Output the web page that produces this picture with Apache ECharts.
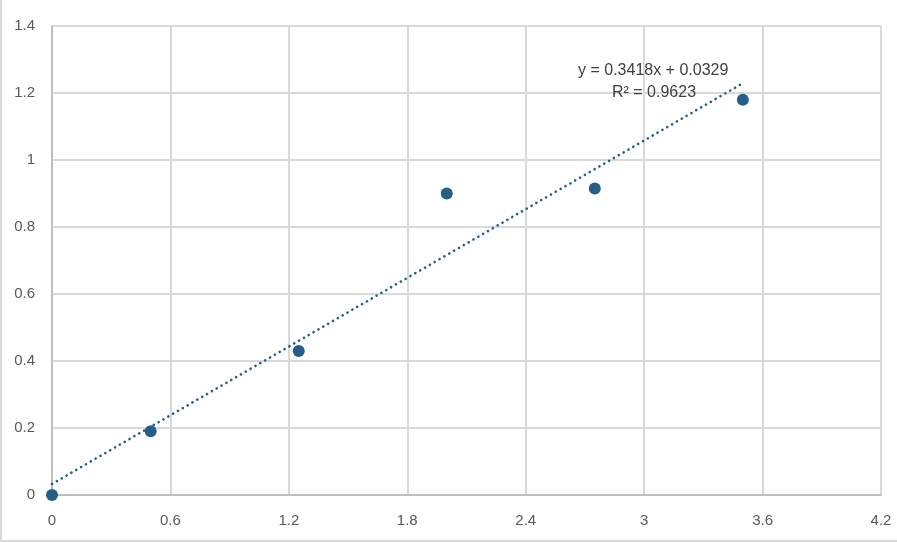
<!DOCTYPE html>
<html><head><meta charset="utf-8">
<script src="https://cdn.jsdelivr.net/npm/echarts@6/dist/echarts.min.js"></script>
<style>html,body{margin:0;padding:0;background:#fff}#c{width:897px;height:543px}</style>
</head><body><div id="c"></div>
<script>
const xValues = [0, 0.5, 1.25, 2, 2.75, 3.5];
const yValues = [0, 0.19, 0.43, 0.9, 0.915, 1.18];
const trendSlope = 0.3418;
const trendIntercept = 0.0329;
const equationLines = ['y = 0.3418x + 0.0329', 'R\u00b2 = 0.9623'];

const pts = xValues.map((x, i) => [x, yValues[i]]);
const xMin = Math.min(...xValues), xMax = Math.max(...xValues);
const trend = [[xMin, trendSlope * xMin + trendIntercept], [xMax, trendSlope * xMax + trendIntercept]];
const color = '#255e87';
const font = 'Liberation Sans, Arial, sans-serif';

const chart = echarts.init(document.getElementById('c'));
chart.setOption({
  animation: false,
  grid: { left: 52, right: 16, top: 26, bottom: 48 },
  xAxis: {
    type: 'value', min: 0, max: 4.2, interval: 0.6,
    axisLine: { show: true, lineStyle: { color: '#bfbfbf', width: 2 } },
    axisTick: { show: false },
    splitLine: { show: true, lineStyle: { color: '#d9d9d9', width: 2 } },
    axisLabel: { color: '#595959', fontSize: 15, fontFamily: font, margin: 18,
      formatter: v => String(Math.round(v * 10) / 10) }
  },
  yAxis: {
    type: 'value', min: 0, max: 1.4, interval: 0.2,
    axisLine: { show: true, lineStyle: { color: '#bfbfbf', width: 2 } },
    axisTick: { show: false },
    splitLine: { show: true, lineStyle: { color: '#d9d9d9', width: 2 } },
    axisLabel: { color: '#595959', fontSize: 15, fontFamily: font, margin: 17,
      formatter: v => String(Math.round(v * 10) / 10) }
  },
  series: [
    {
      type: 'line', data: trend, symbol: 'none', silent: true, z: 2,
      lineStyle: { color: color, width: 2.6, type: [0.1, 5.5], cap: 'round', opacity: 1 }
    },
    {
      type: 'scatter', data: pts, symbol: 'circle', symbolSize: 12, z: 3,
      itemStyle: { color: color, opacity: 1 }
    }
  ],
  graphic: [
    { type: 'text', left: 578, top: 63, z: 10,
      style: { text: equationLines[0], fill: '#404040', font: '16px ' + font } },
    { type: 'text', left: 612, top: 85, z: 10,
      style: { text: equationLines[1], fill: '#404040', font: '16px ' + font } },
    { type: 'line', shape: { x1: 1, y1: 0, x2: 1, y2: 541 }, style: { stroke: '#d9d9d9', lineWidth: 2 } },
    { type: 'line', shape: { x1: 0, y1: 541, x2: 897, y2: 541 }, style: { stroke: '#d9d9d9', lineWidth: 2 } }
  ]
});
</script></body></html>
